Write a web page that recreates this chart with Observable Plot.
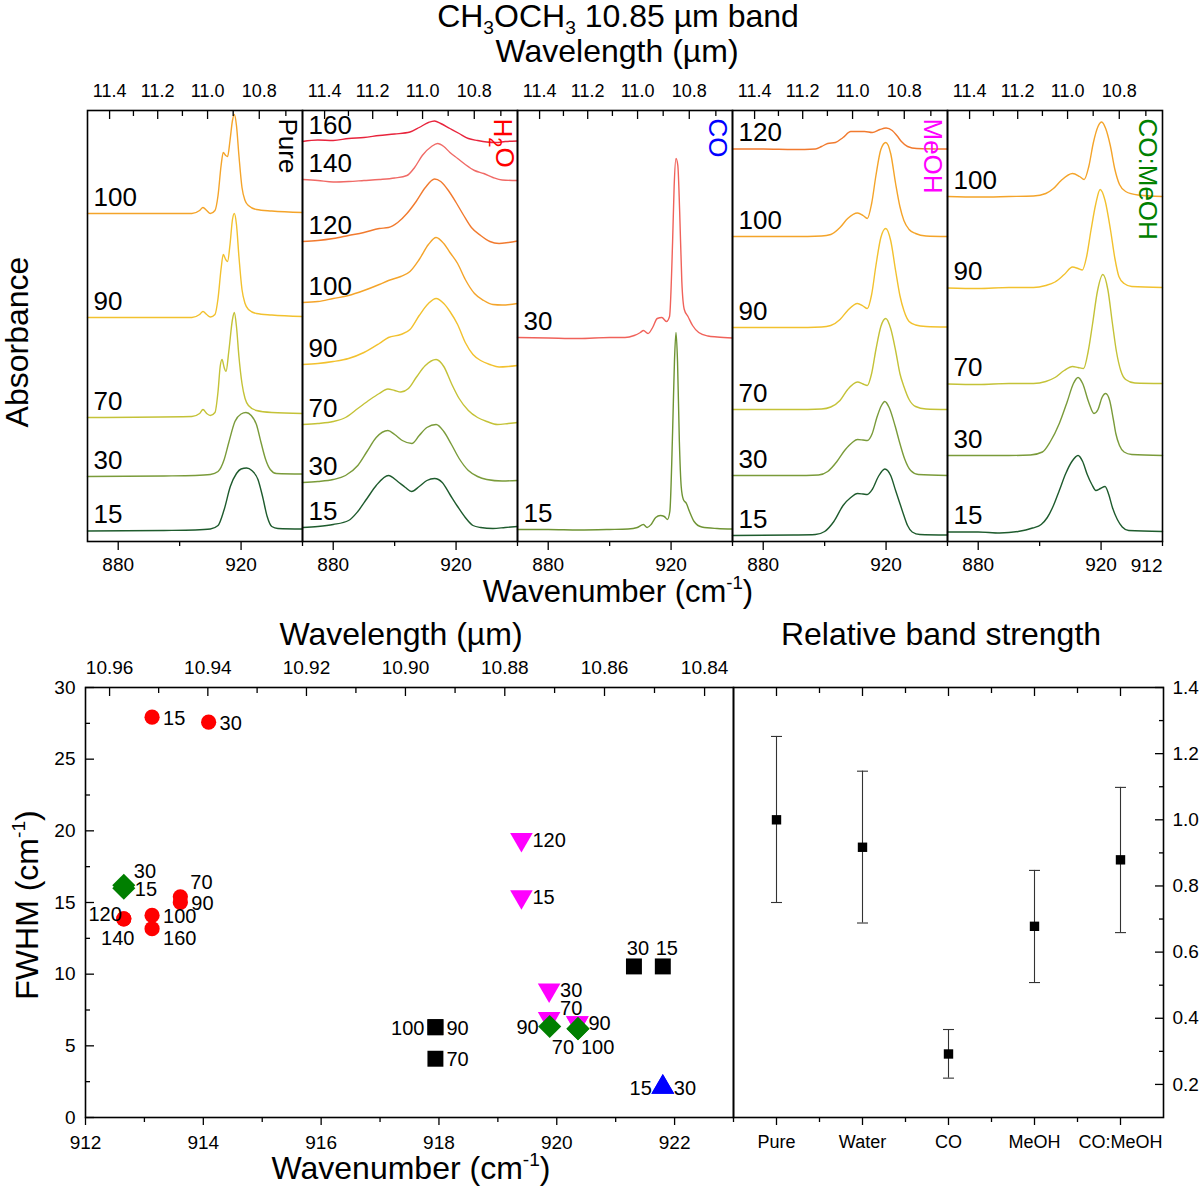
<!DOCTYPE html>
<html>
<head>
<meta charset="utf-8">
<script src="https://cdn.jsdelivr.net/npm/d3@7"></script>
<script src="https://cdn.jsdelivr.net/npm/@observablehq/plot@0.6"></script>
<style>
  body { margin: 0; background: #fff; font-family: "Liberation Sans", Arial, sans-serif; }
  #fig { position: relative; width: 1200px; height: 1187px; }
  #fig svg { position: absolute; }
  .lbl { position: absolute; white-space: nowrap; color: #000; line-height: 1; }
  .sub { font-size: 0.6em; position: relative; top: 0.35em; }
  .sup { font-size: 0.6em; position: relative; top: -0.7em; }
</style>
</head>
<body>
<div id="fig"></div>
<script>
// ---------- spectra (wavenumber cm-1, stacked absorbance, arbitrary units) ----------
const panels = ["Pure", "H2O", "CO", "MeOH", "CO:MeOH"];

const pureSpectra = [
  {T: 100, pts: [[870,328],[890,328],[904,328],[906.5,331],[907.6,334],[908.8,331],[910,328],[911.5,331],[912.5,346],[913.5,376],[914.2,389],[915,386],[915.6,385],[916.4,401],[917.2,421],[917.8,427],[918.5,416],[919.3,386],[920.3,354],[921.3,341],[922.4,336],[925,332],[930,330.5],[940,329]]},
  {T: 90, pts: [[870,224],[904,224],[906.5,227],[907.6,230],[908.8,227],[910,224.5],[911.5,227],[912.5,243],[913.5,273],[914.2,287],[915,282],[915.6,280],[916.4,297],[917.2,322],[917.8,328],[918.5,317],[919.3,285],[920.3,252],[921.3,238],[922.4,232],[925,228],[930,226.5],[940,225]]},
  {T: 70, pts: [[870,124],[904,125],[906.5,128],[907.6,132],[908.8,128],[910,126],[911.5,129],[912.5,150],[913.2,175],[913.8,182],[914.5,174],[915.1,170],[916,190],[917.2,222],[917.8,229],[918.5,215],[919.3,185],[920.3,158],[921.3,143],[922.4,136],[925,131],[930,129],[940,128]]},
  {T: 30, pts: [[870,65],[895,65.5],[905,66],[910,67],[912.5,70],[914.5,82],[916,99],[918,120],[920,127.5],[921.6,129],[923.3,126],[925,117],[926.5,99],[928,82],[929.5,72],[931.5,68],[940,67.5]]},
  {T: 15, pts: [[870,10.5],[895,11],[905,11.5],[910,12.5],[912.5,16],[914.5,32],[916.5,55],[918.5,68],[920,72.5],[921.8,73.5],[923.5,71],[925.5,62],[927,45],[928.5,25],[930,15],[932,13],[940,12.5]]}
];

const waterSpectra = [
  {T: 160, pts: [[870,400],[875,401.5],[880,401],[885,403],[890,404],[895,406],[900,407.5],[905,409.5],[908,414],[911,419],[913,420.5],[915,418],[918,413],[921,408],[924,403],[927,401],[930,399.5],[933,399],[936,400],[940,400.5]]},
  {T: 140, pts: [[870,362],[875,361],[880,359.5],[885,360],[890,361],[895,362],[900,363.5],[904,366],[906.5,374],[909,386],[912,395],[914,398],[916,395],[918,389],[920.5,383],[923,377],[926,371],[929,368],[932,364],[935,361.5],[940,361]]},
  {T: 120, pts: [[870,300],[875,301],[880,303],[885,306],[890,309],[895,313],[898,314],[901,319],[904,328],[907,340],[910,354],[913,362.5],[915,360],[917.5,351],[920,339],[922.5,326],[925,314],[928,306],[931,300],[934,298],[937,299],[940,300.5]]},
  {T: 100, pts: [[870,239],[875,240],[880,243],[885,246],[890,251],[895,257],[898,261],[902,265],[905,270],[908,282],[911,297],[913.5,304],[916,298],[918,289],[920.5,278],[923,262],[926,248],[929,241],[932,237],[935,236.5],[940,238]]},
  {T: 90, pts: [[870,177],[875,178],[880,180],[885,183],[890,189],[895,198],[898,204],[902,207],[905,212],[908,226],[911,238],[913.5,243],[916,238],[918,230],[920.5,217],[923,199],[925.5,187],[928,181],[931,177],[934,174.5],[937,175],[940,176]]},
  {T: 70, pts: [[870,117],[875,118],[880,120],[884,124],[888,133],[892,142],[895,148],[897.8,152.5],[900,151],[902,149.5],[904.5,153],[907,164],[910,176],[913.5,182],[916,175],[918.5,158],[921,143],[924,131],[927,124],[930,120],[933.5,117],[937,118],[940,119]]},
  {T: 30, pts: [[870,59],[875,60],[880,62],[884,66],[888,76],[891,90],[894,104],[897.8,111],[900,107],[902.5,101],[905.6,98],[908,106],[910.5,114],[913.5,117],[916,110],[918.5,97],[921,83],[924,71],[927,65],[930,62],[935,60.5],[940,61]]},
  {T: 15, pts: [[870,14],[875,15],[880,17],[885,21],[888,30],[891,43],[894,56],[898,66],[901,60],[903.5,54],[905.5,50],[908,55],[910.5,61],[913,63],[915.5,59],[918,47],[920.5,35],[923,24],[925.5,16],[928,14],[932,13],[936,14],[940,15]]}
];

const coSpectra = [
  {T: 30, pts: [[870,204],[880,203.5],[890,203],[900,204],[905,204],[908,206],[910,209],[911,211],[912.5,208],[914,214],[915.5,223],[917,224],[918.5,220],[919.5,225],[920.5,300],[921,355],[921.6,383],[922.2,376],[922.8,330],[923.5,260],[924.3,232],[925.5,225],[927,216],[929,209],[932,205.5],[935,204.5],[940,203.5]]},
  {T: 15, pts: [[870,12],[880,12],[890,11.5],[900,12],[906,12.5],[909,14],[911,17],[912.2,14],[913.5,17],[915,24],[916.5,26],[917.8,25],[918.8,22],[919.6,30],[920.5,110],[921.1,180],[921.6,209],[922.1,180],[922.7,100],[923.3,55],[924,42],[925,38],[926,30],[927.5,20],[930,14.5],[935,13],[940,12.5]]}
];

const meohSpectra = [
  {T: 120, pts: [[870,392.5],[880,392.5],[890,392],[897,392.5],[899,395],[901,398],[903.5,399],[906,404],[908.5,410],[913,410],[915.5,409],[918,412],[920,413.5],[922,411],[923.5,406],[925,400],[927,395],[930,393],[940,392.5]]},
  {T: 100, pts: [[870,305],[890,305],[899,305.5],[902,307],[905,314],[907.5,323],[910.7,328.5],[912.5,326],[913.9,323],[915.3,338],[916.7,366],[918.3,392],[919.9,399],[921.5,388],[923.1,358],[924.5,335],[925.8,321],[927.5,312],[929.6,308],[933,305.5],[940,305]]},
  {T: 90, pts: [[870,214],[890,214],[899,214.5],[902,216],[905,222],[907.5,231],[910.7,238],[912.5,235.5],[913.9,233],[915.3,247],[916.7,276],[918.3,304],[919.9,313],[921.5,301],[923.1,271],[924.5,246],[925.8,231],[927.5,220],[929.6,216.5],[933,215],[940,214.5]]},
  {T: 70, pts: [[870,132],[890,132],[899,132.5],[902,134.5],[905,141],[907.5,152],[910.7,159.5],[912.5,157.5],[913.9,156],[915.3,168],[916.7,192],[918.3,215],[919.9,223],[921.5,213],[923.1,191],[924.5,168],[925.8,155],[927.5,142],[929.6,135],[933,132.5],[940,132]]},
  {T: 30, pts: [[870,66],[890,66],[898,66.5],[901,70],[904,80],[906.5,91],[909,99],[910.7,102],[912.5,101.5],[913.9,101],[915.5,108],[917,124],[918.5,136],[919.6,140],[921,134],[923,115],[924.5,98],[926,83],[928,71],[930.5,67],[940,66]]},
  {T: 15, pts: [[870,6],[890,6.5],[897,7],[900,10],[903,20],[906,36],[908.5,44],[910.7,48],[912.5,47.5],[913.9,47],[915.5,52],[917.5,65],[919.6,72.5],[921.5,66],[923.1,51],[924.5,38],[925.8,26],[927,16],[928.5,9.5],[931,7],[940,6.5]]}
];

const comeohSpectra = [
  {T: 100, pts: [[870,345],[880,344.5],[890,345],[898,345.5],[902,348],[904.5,353],[907,361],[910.7,368],[913,365],[914.5,362],[916,375],[917.5,399],[919,415],[920.2,419.5],[921.5,413],[923,396],[924.5,372],[926,357],[928,350],[932,346.5],[940,345]]},
  {T: 90, pts: [[870,253.5],[880,253],[890,254],[898,254],[902,256],[905,259.5],[908,267],[910.7,274.5],[912.5,273],[913.9,271.5],[915.3,285],[916.7,311],[918.3,338],[919.7,352],[921.3,341],[923.1,311],[924.5,283],[925.8,265],[927.5,258],[930,255],[940,254]]},
  {T: 70, pts: [[870,157.5],[880,157],[890,158],[898,158],[902,160],[905,164],[908,171],[910.7,175],[912.5,174],[914.3,173],[915.8,190],[917.2,217],[918.8,250],[920.6,267],[922.2,252],[923.7,218],[925,190],[926.4,171],[928,162],[931,158.5],[940,158]]},
  {T: 30, pts: [[870,86],[880,86],[890,86],[897,86.5],[900.9,89.5],[903.5,100],[906.4,118],[909,140],[911,158],[912.5,164],[914,158],[916,139],[917.7,128],[919,132],[920.3,144],[921.5,148],[922.8,141],[924,122],[924.8,108],[926,96],[927.5,89.5],[930,87],[940,86]]},
  {T: 15, pts: [[870,9.5],[880,9.5],[887,8.5],[893,10],[897.7,13.5],[900.5,17],[902.5,24],[904.5,36],[906.4,51],[908.5,68],[910.5,80],[912.5,86],[914,80],[915.5,67],[917,57],[918.3,51],[919.8,53],[921.3,55],[922.5,47],[923.7,34],[925.3,22],[926.9,14.5],[929,11],[940,10]]}
];

const wnDomain = [870, 940];
const wnMajor = [880, 920];
const wnMinor = [900, 940];
const wlMajor = [11.4, 11.2, 11.0, 10.8];
const wlMinor = [11.3, 11.1, 10.9, 10.7];
const lastTickLabel = "912";

// ---------- FWHM scatter ----------
const pureT = [15, 30, 70, 90, 100];
const pureWn = [921.80, 921.31, 917.94, 917.94, 917.94];
const pureFwhm = [10.54, 10.54, 4.1, 6.3, 6.3];
const pureSide = ["u", "u", "r", "r", "l"];

const waterT = [15, 30, 70, 90, 100, 120, 140, 160];
const waterWn = [913.13, 914.09, 913.61, 913.61, 913.13, 912.65, 912.65, 913.13];
const waterFwhm = [27.93, 27.58, 15.4, 15.0, 14.1, 13.86, 13.86, 13.17];
const waterSide = ["r", "r", "ur", "r", "r", "ul", "dl", "rd"];

const coT = [15, 30];
const coWn = [921.80, 921.80];
const coFwhm = [2.12, 2.12];
const coSide = ["l", "r"];

const meohT = [15, 30, 70, 90, 100, 120];
const meohWn = [919.40, 919.87, 919.87, 920.35, 920.35, 919.40];
const meohFwhm = [15.4, 8.9, 6.9, 6.6, 6.6, 19.4];
const meohSide = ["r", "r", "ur2", "r", "none", "r"];

const comeohT = [15, 30, 70, 90, 100];
const comeohWn = [912.65, 912.65, 920.36, 919.88, 920.36];
const comeohFwhm = [16.0, 16.2, 6.2, 6.35, 6.2];
const comeohSide = ["r", "ur", "dl2", "l", "dr"];

const fwhmWnMajor = [912, 914, 916, 918, 920, 922];
const fwhmWnMinor = [913, 915, 917, 919, 921, 923];
const fwhmWlMajor = [10.96, 10.94, 10.92, 10.90, 10.88, 10.86, 10.84];
const fwhmWlMinor = [10.95, 10.93, 10.91, 10.89, 10.87, 10.85];
const fwhmMajor = [0, 5, 10, 15, 20, 25, 30];
const fwhmMinor = [2.5, 7.5, 12.5, 17.5, 22.5, 27.5];

// ---------- relative band strength ----------
const bandNames = ["Pure", "Water", "CO", "MeOH", "CO:MeOH"];
const bandValue = [1.0, 0.917, 0.292, 0.678, 0.879];
const bandLow = [0.75, 0.688, 0.219, 0.508, 0.659];
const bandHigh = [1.252, 1.147, 0.366, 0.847, 1.098];
const bandMajor = [0.2, 0.4, 0.6, 0.8, 1.0, 1.2, 1.4];
const bandMinor = [0.3, 0.5, 0.7, 0.9, 1.1, 1.3];

// ---------- styles ----------
const FONT = '"Liberation Sans", Arial, sans-serif';
const panelNameColor = {"Pure": "#000000", "H2O": "#ff0000", "CO": "#0000ff", "MeOH": "#ff00ff", "CO:MeOH": "#008000"};
const tempColor = {15: "#1e5b2d", 30: "#7a9b3a", 70: "#c4c237", 90: "#f2c12e", 100: "#f4a42a", 120: "#f17a2e", 140: "#f06a66", 160: "#e8243c"};
const coColor = {30: "#f0625a", 15: "#6f9434"};
const sideStyle = {
  r:   {dx: 11, dy: 1, anchor: "start"},
  l:   {dx: -11, dy: 1, anchor: "end"},
  ur:  {dx: 10, dy: -14, anchor: "start"},
  ur2: {dx: 11, dy: -10, anchor: "start"},
  ul:  {dx: -2, dy: -4, anchor: "end"},
  dl:  {dx: -6, dy: 20, anchor: "middle"},
  dl2: {dx: -15, dy: 19, anchor: "middle"},
  dr:  {dx: 3, dy: 19, anchor: "start"},
  rd:  {dx: 11, dy: 10, anchor: "start"},
  u:   {dx: 4, dy: -18, anchor: "middle"}
};
const toWn = wl => 1e4 / wl;
const blank = () => "";

const fig = document.getElementById("fig");

function place(svg, left, top) {
  svg.style.left = left + "px";
  svg.style.top = top + "px";
  svg.style.background = "transparent";
  fig.appendChild(svg);
}

function addLabel(html, x, y, size, rotate = 0) {
  const div = document.createElement("div");
  div.className = "lbl";
  div.innerHTML = html;
  div.style.left = x + "px";
  div.style.top = y + "px";
  div.style.fontSize = size + "px";
  div.style.transform = `translate(-50%, -50%) rotate(${rotate}deg)`;
  fig.appendChild(div);
}

// inward tick marks: draw outward ticks and shift them back across the frame line
const inTop = (ticks, size) => Plot.axisX({anchor: "top", ticks, tickSize: size, dy: size, tickFormat: blank, label: null, strokeWidth: 1.3});
const outBottom = (ticks, size) => Plot.axisX({anchor: "bottom", ticks, tickSize: size, tickFormat: blank, label: null, strokeWidth: 1.3});
const inLeft = (ticks, size) => Plot.axisY({anchor: "left", ticks, tickSize: size, dx: size, tickFormat: blank, label: null, strokeWidth: 1.3});
const inRight = (ticks, size) => Plot.axisY({anchor: "right", ticks, tickSize: size, dx: -size, tickFormat: blank, label: null, strokeWidth: 1.3});

// ---------- top: spectra in five facets ----------
const spectraByPanel = [pureSpectra, waterSpectra, coSpectra, meohSpectra, comeohSpectra];
const rows = spectraByPanel.flatMap((list, p) =>
  list.flatMap(s => s.pts.map(([wn, a]) => ({panel: panels[p], T: s.T, wn, a}))));
const firstRows = spectraByPanel.flatMap((list, p) =>
  list.map(s => ({panel: panels[p], T: s.T, a: s.pts[0][1]})));
const traceColor = d => d.panel === "CO" ? coColor[d.T] : tempColor[d.T];

const spectraChart = Plot.plot({
  width: 1200,
  height: 610,
  marginTop: 110,
  marginBottom: 69,
  marginLeft: 85,
  marginRight: 37,
  style: {fontFamily: FONT, fontSize: "18px", color: "#000"},
  fx: {domain: panels, padding: 0, axis: null, label: null},
  x: {domain: wnDomain},
  y: {domain: [0, 431], axis: null},
  color: {type: "identity"},
  marks: [
    Plot.line(rows, {fx: "panel", x: "wn", y: "a", z: "T", stroke: traceColor, strokeWidth: 1.4, curve: "monotone-x"}),
    Plot.text(firstRows, {fx: "panel", y: "a", text: d => String(d.T), frameAnchor: "left", dx: 6, dy: -16, textAnchor: "start", fontSize: 26, fill: "#000"}),
    Plot.text(panels, {fx: d => d, text: d => d, frameAnchor: "top-right", rotate: 90, textAnchor: "start", lineAnchor: "top", dx: -5, dy: 8, fontSize: 26, fill: d => panelNameColor[d]}),
    Plot.text([panels[panels.length - 1]], {fx: d => d, text: () => lastTickLabel, frameAnchor: "bottom-right", lineAnchor: "top", dy: 17, fontSize: 19, fill: "#000"}),
    inTop(wlMajor.map(toWn), 8),
    inTop(wlMinor.map(toWn), 5),
    Plot.axisX({anchor: "top", ticks: wlMajor.map(toWn), tickSize: 0, tickPadding: 14, tickFormat: d => toWn(d).toFixed(1), label: null, fontSize: 18}),
    outBottom(wnMajor, 9),
    outBottom(wnMinor, 5),
    Plot.axisX({anchor: "bottom", ticks: wnMajor, tickSize: 0, tickPadding: 16, tickFormat: d => String(d), label: null, fontSize: 19}),
    Plot.frame({stroke: "#000", strokeWidth: 1.6})
  ]
});
// subscript 2 in the water label
d3.select(spectraChart).selectAll("text").filter(function () { return this.textContent === "H2O"; })
  .each(function () {
    const t = d3.select(this).text(null);
    t.append("tspan").text("H");
    t.append("tspan").attr("dy", "0.3em").attr("font-size", "0.7em").text("2");
    t.append("tspan").attr("dy", "-0.3em").text("O");
  });
place(spectraChart, 0, 0);

// ---------- bottom left: FWHM vs wavenumber ----------
const series = [
  {name: "Pure", T: pureT, wn: pureWn, fwhm: pureFwhm, side: pureSide},
  {name: "CO", T: coT, wn: coWn, fwhm: coFwhm, side: coSide},
  {name: "Water", T: waterT, wn: waterWn, fwhm: waterFwhm, side: waterSide},
  {name: "MeOH", T: meohT, wn: meohWn, fwhm: meohFwhm, side: meohSide},
  {name: "CO:MeOH", T: comeohT, wn: comeohWn, fwhm: comeohFwhm, side: comeohSide}
];
const markerStyle = {
  "Pure": {symbol: "square", r: 9, fill: "#000000", rotate: 0},
  "CO": {symbol: "triangle", r: 8.5, fill: "#0000ff", rotate: 0},
  "Water": {symbol: "circle", r: 7.6, fill: "#ff0000", rotate: 0},
  "MeOH": {symbol: "triangle", r: 8.4, fill: "#ff00ff", rotate: 180},
  "CO:MeOH": {symbol: "square", r: 9.2, fill: "#007f00", rotate: 45}
};
const pts = series.flatMap(s => s.T.map((t, i) => ({series: s.name, T: t, wn: s.wn[i], fwhm: s.fwhm[i], side: s.side[i]})));

const scatterChart = Plot.plot({
  width: 760,
  height: 577,
  marginTop: 77,
  marginBottom: 70,
  marginLeft: 85,
  marginRight: 27,
  style: {fontFamily: FONT, fontSize: "19px", color: "#000"},
  x: {domain: [912, 923]},
  y: {domain: [0, 30]},
  color: {type: "identity"},
  marks: [
    ...series.map(s => Plot.dot(pts.filter(d => d.series === s.name), {
      x: "wn", y: "fwhm", symbol: markerStyle[s.name].symbol, r: markerStyle[s.name].r,
      fill: markerStyle[s.name].fill, stroke: "none", rotate: markerStyle[s.name].rotate
    })),
    ...Object.entries(sideStyle).map(([key, st]) => Plot.text(pts.filter(d => d.side === key), {
      x: "wn", y: "fwhm", text: d => String(d.T), dx: st.dx, dy: st.dy, textAnchor: st.anchor, fontSize: 20, fill: "#000"
    })),
    outBottom(fwhmWnMajor, 8),
    outBottom(fwhmWnMinor, 5),
    Plot.axisX({anchor: "bottom", ticks: fwhmWnMajor, tickSize: 0, tickPadding: 18, tickFormat: d => String(d), label: null, fontSize: 19}),
    inTop(fwhmWlMajor.map(toWn), 8),
    inTop(fwhmWlMinor.map(toWn), 5),
    Plot.axisX({anchor: "top", ticks: fwhmWlMajor.map(toWn), tickSize: 0, tickPadding: 14, tickFormat: d => toWn(d).toFixed(2), label: null, fontSize: 19}),
    inLeft(fwhmMajor, 9),
    inLeft(fwhmMinor, 5),
    Plot.axisY({anchor: "left", ticks: fwhmMajor, tickSize: 0, tickPadding: 10, tickFormat: d => String(d), label: null, fontSize: 19}),
    Plot.frame({stroke: "#000", strokeWidth: 1.6})
  ]
});
place(scatterChart, 0, 610);

// ---------- bottom right: relative band strength ----------
const bandRows = bandNames.map((name, i) => ({name, idx: i, v: bandValue[i], lo: bandLow[i], hi: bandHigh[i]}));
const capSymbol = {draw(context, size) { const w = Math.sqrt(size) / 2; context.moveTo(-w, 0); context.lineTo(w, 0); }};
const bandCenters = bandNames.map((_, i) => i);
const bandEdges = bandNames.slice(1).map((_, i) => i + 0.5);

const bandChart = Plot.plot({
  width: 480,
  height: 577,
  marginTop: 77,
  marginBottom: 70,
  marginLeft: 13,
  marginRight: 37,
  style: {fontFamily: FONT, fontSize: "19px", color: "#000"},
  x: {domain: [-0.5, bandNames.length - 0.5]},
  y: {domain: [0.1, 1.4]},
  marks: [
    Plot.ruleX(bandRows, {x: "idx", y1: "lo", y2: "hi", stroke: "#333", strokeWidth: 1.1}),
    Plot.dot(bandRows, {x: "idx", y: "lo", symbol: capSymbol, r: 6.2, stroke: "#333", strokeWidth: 1.1, fill: "none"}),
    Plot.dot(bandRows, {x: "idx", y: "hi", symbol: capSymbol, r: 6.2, stroke: "#333", strokeWidth: 1.1, fill: "none"}),
    Plot.dot(bandRows, {x: "idx", y: "v", symbol: "square", r: 5.3, fill: "#000", stroke: "none"}),
    outBottom(bandCenters, 8),
    outBottom(bandEdges, 5),
    Plot.axisX({anchor: "bottom", ticks: bandCenters, tickSize: 0, tickPadding: 18, tickFormat: i => bandNames[i], label: null, fontSize: 18}),
    inTop(bandCenters, 8),
    inTop(bandEdges, 5),
    inRight(bandMajor, 9),
    inRight(bandMinor, 5),
    Plot.axisY({anchor: "right", ticks: bandMajor, tickSize: 0, tickPadding: 9, tickFormat: d => d.toFixed(1), label: null, fontSize: 19}),
    Plot.frame({stroke: "#000", strokeWidth: 1.6})
  ]
});
place(bandChart, 720, 610);

// ---------- titles and axis names ----------
addLabel('CH<span class="sub">3</span>OCH<span class="sub">3</span> 10.85 µm band', 618, 16, 32);
addLabel("Wavelength (µm)", 617, 51, 32);
addLabel("Absorbance", 17, 342, 32, -90);
addLabel('Wavenumber (cm<span class="sup">-1</span>)', 618, 591, 31);
addLabel("Wavelength (µm)", 401, 634, 32);
addLabel("Relative band strength", 941, 634, 32);
addLabel('FWHM (cm<span class="sup">-1</span>)', 27, 905, 32, -90);
addLabel('Wavenumber (cm<span class="sup">-1</span>)', 411, 1168, 32);
</script>
</body>
</html>
